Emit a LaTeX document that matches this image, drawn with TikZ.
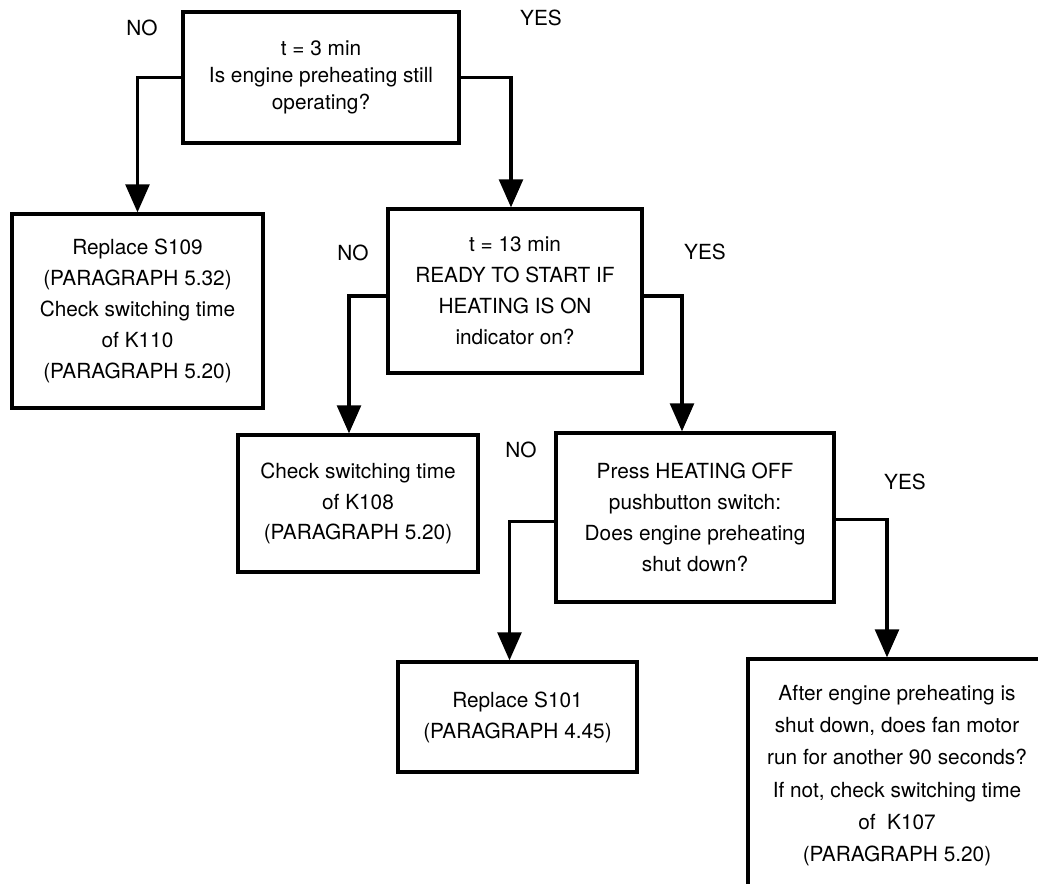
\documentclass[tikz,border=0pt]{standalone}
\usepackage{fontspec}
\setmainfont{TeX Gyre Heros}
\usetikzlibrary{calc,arrows.meta}

\begin{document}
\begin{tikzpicture}[
  box/.style={draw, line width=2.3pt, align=center, inner sep=0pt,
    font=\fontsize{14.8}{22}\selectfont},
  lbl/.style={font=\fontsize{14.8}{17}\selectfont},
  flow/.style={line width=2.3pt, -{Triangle[width=17pt,length=20pt]}}
]

% Page area (the last box runs off the edges)
\clip (0,0) rectangle (25.95,22.075);

% Question boxes
\node[box, minimum width=6.9cm, minimum height=3.275cm,
  font=\fontsize{14.8}{19}\selectfont] (q1) at (8.025,20.1375)
  {t = 3 min\\Is engine preheating still\\operating?};
\node[box, minimum width=6.35cm, minimum height=4.1cm] (q2) at (12.875,14.8)
  {t = 13 min\\READY TO START IF\\HEATING IS ON\\indicator on?};
\node[box, minimum width=6.95cm, minimum height=4.225cm] (q3) at (17.375,9.1375)
  {Press HEATING OFF\\pushbutton switch:\\Does engine preheating\\shut down?};

% Action boxes
\node[box, minimum width=6.275cm, minimum height=4.85cm] (fix1) at (3.4375,14.3)
  {Replace S109\\(PARAGRAPH 5.32)\\Check switching time\\of K110\\(PARAGRAPH 5.20)};
\node[box, minimum width=6.0cm, minimum height=3.425cm] (fix2) at (8.95,9.4875)
  {Check switching time\\of K108\\(PARAGRAPH 5.20)};
\node[box, minimum width=5.975cm, minimum height=2.75cm] (fix3) at (12.9375,4.15)
  {Replace S101\\(PARAGRAPH 4.45)};
\node[box, minimum width=7.45cm, minimum height=5.825cm,
  font=\fontsize{14.8}{23}\selectfont] (check) at (22.425,2.6875)
  {After engine preheating is\\shut down, does fan motor\\run for another 90 seconds?\\If not, check switching time\\of~ K107\\(PARAGRAPH 5.20)};

% Branch labels
\node[lbl] (no1) at (3.55,21.375) {NO};
\node[lbl] (yes1) at (13.525,21.625) {YES};
\node[lbl] (no2) at (8.825,15.75) {NO};
\node[lbl] (yes2) at (17.625,15.775) {YES};
\node[lbl] (no3) at (13.025,10.825) {NO};
\node[lbl] (yes3) at (22.625,10.025) {YES};

% Branches
\draw[flow] (q1.west) -| (fix1.north);
\draw[flow] (q1.east) -| ($(q2.north)+(-0.1,0)$);
\draw[flow] ($(q2.west)+(0,-0.125)$) -| ($(fix2.north)+(-0.225,0)$);
\draw[flow] ($(q2.east)+(0,-0.125)$) -| ($(q3.north)+(-0.325,0)$);
\draw[flow] ($(q3.west)+(0,-0.1)$) -| ($(fix3.north)+(-0.2,0)$);
\draw[flow] ($(q3.east)+(0,-0.05)$) -| ($(check.north)+(-0.25,0)$);

\end{tikzpicture}
\end{document}
